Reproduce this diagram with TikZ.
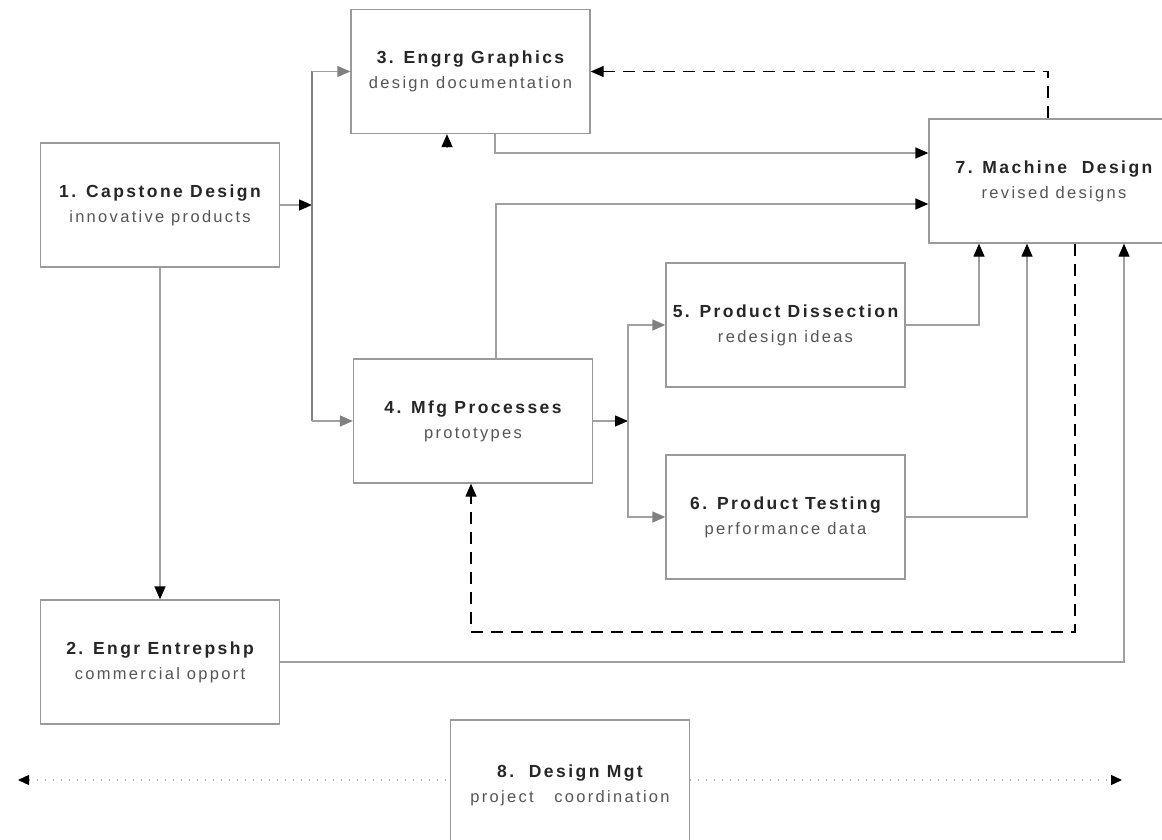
\documentclass[tikz,border=0pt]{standalone}
\usepackage{fontspec}
\usetikzlibrary{arrows.meta}
\newfontfamily\diafont[LetterSpace=14]{Liberation Sans}
\definecolor{boxgray}{HTML}{9A9A9A}
\definecolor{linegray}{HTML}{A0A0A0}
\definecolor{subgray}{HTML}{555555}
\newcommand{\boxtext}[2]{{\bfseries\color{black!85}#1}\\{\fontsize{16.5}{25}\selectfont\color{subgray}#2}}
\tikzset{
	course/.style={draw=boxgray,line width=1.3pt,fill=white,minimum width=239pt,minimum height=124pt,align=center,font=\diafont\fontsize{17.5}{25}\selectfont},
	link/.style={draw=linegray,line width=1.3pt},
	blk/.style={link,-{Triangle[length=13pt,width=11pt,black]}},
	gry/.style={link,-{Triangle[length=13pt,width=11pt,gray]}},
	bus/.style={draw=gray,line width=2.6pt}
}
\begin{document}
\begin{tikzpicture}[x=1pt,y=-1pt]
		\useasboundingbox (0,0) rectangle (1162,840);
		\clip (0,0) rectangle (1162,840);
		% courses
		\node[course] (cap) at (160,205) {\boxtext{1. Capstone Design}{innovative products}};
		\node[course] (entre) at (160,662) {\boxtext{2. Engr Entrepshp}{commercial opport}};
		\node[course] (graph) at (470.5,71.5) {\boxtext{3. Engrg Graphics}{design documentation}};
		\node[course] (mfg) at (473,421) {\boxtext{4. Mfg Processes}{prototypes}};
		\node[course] (diss) at (785.5,325) {\boxtext{5. Product Dissection}{redesign ideas}};
		\node[course] (test) at (785.5,517) {\boxtext{6. Product Testing}{performance data}};
		\node[course,minimum width=250pt] (mach) at (1054,181) {\boxtext{7. Machine\ \ Design}{revised designs}};
		\node[course,minimum height=130pt] (mgt) at (570,785) {\boxtext{8.\ \ Design Mgt}{project\ \ \ coordination}};
		% junctions
		\coordinate (busA) at (312,205);
		\coordinate (busB) at (628,421);
		\coordinate (dcorner) at (1075,632);
		\coordinate (mgtL) at (18,780);
		\coordinate (mgtR) at (1122,780);
		% capstone to graphics and processes
		\draw[blk] (cap.east) -- (busA);
		\draw[bus] (busA |- graph.west) -- (busA |- mfg.west);
		\draw[gry] (busA |- graph.west) -- (graph.west);
		\draw[gry] (busA |- mfg.west) -- (mfg.west);
		\draw[blk] (cap.south) -- (entre.north);
		\draw[blk] ([xshift=-23.5pt,yshift=-14pt]graph.south) -- ([xshift=-23.5pt]graph.south);
		% processes to dissection and testing
		\draw[blk] (mfg.east) -- (busB);
		\draw[gry] (busB) |- (diss.west);
		\draw[gry] (busB) |- (test.west);
		% into machine design
		\draw[blk] ([xshift=24.5pt]graph.south) |- ([yshift=28pt]mach.west);
		\draw[blk] ([xshift=23pt]mfg.north) |- ([yshift=-23pt]mach.west);
		\draw[blk] (diss.east) -| ([xshift=-75pt]mach.south);
		\draw[blk] (test.east) -| ([xshift=-27pt]mach.south);
		\draw[blk] (entre.east) -| ([xshift=70pt]mach.south);
		% feedback
		\draw[blk,draw=black,dash pattern=on 12pt off 8pt] ([xshift=-6pt]mach.north) |- (graph.east);
		\draw[blk,draw=black,dash pattern=on 12pt off 8pt] ([xshift=21pt]mach.south) -- (dcorner) -| ([xshift=-2pt]mfg.south);
		% design management
		\draw[link,draw=gray!70,dash pattern=on 1.3pt off 6.7pt,{Triangle[length=11pt,width=10pt,black]}-] (mgtL) -- (mgtL -| mgt.west);
		\draw[link,draw=gray!70,dash pattern=on 1.3pt off 6.7pt,-{Triangle[length=11pt,width=10pt,black]}] (mgtR -| mgt.east) -- (mgtR);
\end{tikzpicture}
\end{document}
